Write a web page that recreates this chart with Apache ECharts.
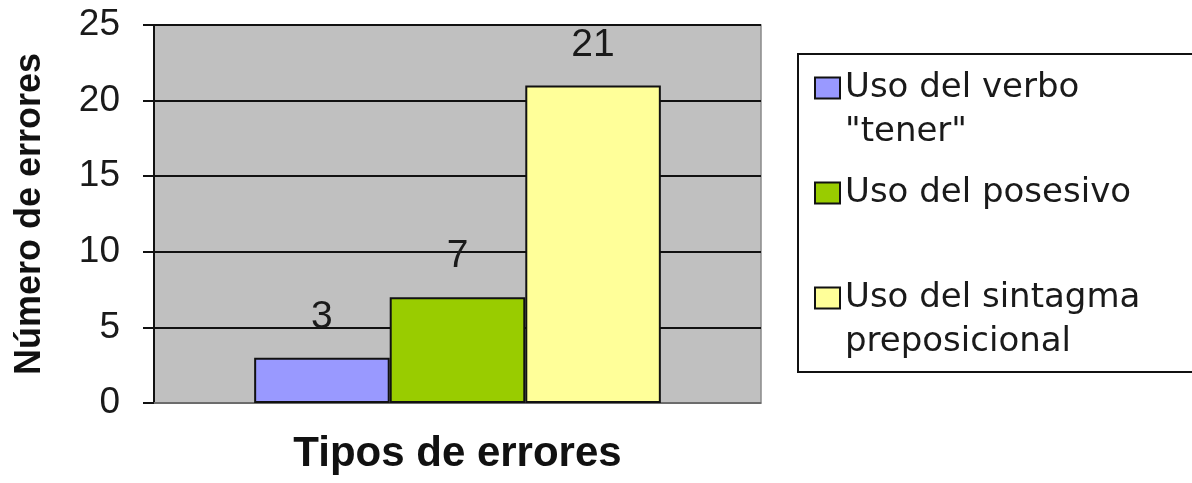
<!DOCTYPE html>
<html>
<head>
<meta charset="utf-8">
<script src="https://cdn.jsdelivr.net/npm/echarts@6/dist/echarts.min.js"></script>
<style>
  html, body { margin: 0; padding: 0; background: #fff; }
  #chart { width: 1192px; height: 483px; }
</style>
</head>
<body>
<div id="chart"></div>
<script>
// datos
var categories = [''];
var seriesNames = ['Uso del verbo "tener"', 'Uso del posesivo', 'Uso del sintagma preposicional'];
var legendLines = [['Uso del verbo', '"tener"'], ['Uso del posesivo'], ['Uso del sintagma', 'preposicional']];
var values = [3, 7, 21];
var colors = ['#9999FF', '#99CC00', '#FFFF99'];
var yTicks = [0, 5, 10, 15, 20, 25];

var chart = echarts.init(document.getElementById('chart'));
var font = '"Liberation Sans", Arial, sans-serif';

var series = seriesNames.map(function (name, i) {
    return {
        name: name,
        type: 'bar',
        data: [values[i]],
        barGap: '0%',
        barCategoryGap: '33%',
        itemStyle: { color: colors[i], borderColor: '#111', borderWidth: 2 },
        label: {
            show: true,
            position: 'top',
            distance: 21,
            color: '#1a1a1a',
            fontFamily: font,
            fontSize: 39
        },
        emphasis: { disabled: true }
    };
});

var option = {
    backgroundColor: '#fff',
    animation: false,
    grid: {
        left: 154, right: 431, top: 25, bottom: 80,
        show: true,
        backgroundColor: '#C0C0C0',
        borderColor: '#8a8a8a',
        borderWidth: 1.5
    },
    legend: {
        orient: 'vertical',
        left: 814,
        top: 22,
        padding: 0,
        itemGap: 17,
        itemWidth: 25,
        itemHeight: 21,
        icon: 'rect',
        selectedMode: false,
        data: seriesNames.map(function (n, i) {
            return { name: n, itemStyle: { color: colors[i], borderColor: '#111', borderWidth: 2 } };
        }),
        formatter: function (name) {
            var lines = legendLines[seriesNames.indexOf(name)];
            // linea vacia arriba para que el cuadro quede junto a la primera linea
            return lines.length > 1 ? '\n' + lines.join('\n') : lines[0];
        },
        textStyle: {
            color: '#1a1a1a',
            fontFamily: '"DejaVu Sans", sans-serif',
            fontSize: 34,
            lineHeight: 44
        }
    },
    graphic: [{
        type: 'rect',
        z: -1,
        shape: { x: 798, y: 54, width: 420, height: 318 },
        style: { fill: '#fff', stroke: '#111', lineWidth: 2 }
    }],
    xAxis: {
        type: 'category',
        data: categories,
        name: 'Tipos de errores',
        nameLocation: 'middle',
        nameGap: 30,
        nameTextStyle: { color: '#111', fontFamily: font, fontSize: 42, fontWeight: 'bold' },
        axisLine: { lineStyle: { color: '#8a8a8a', width: 1.5 } },
        axisTick: { show: false },
        axisLabel: { show: false }
    },
    yAxis: {
        type: 'value',
        min: yTicks[0],
        max: yTicks[yTicks.length - 1],
        interval: 5,
        name: 'Número de errores',
        nameLocation: 'middle',
        nameGap: 106,
        nameTextStyle: { color: '#111', fontFamily: font, fontSize: 36, fontWeight: 'bold' },
        axisLine: { show: true, lineStyle: { color: '#111', width: 2 } },
        axisTick: { show: true, length: 11, lineStyle: { color: '#111', width: 2 } },
        axisLabel: { margin: 34, color: '#1a1a1a', fontFamily: font, fontSize: 37 },
        splitLine: { lineStyle: { color: '#111', width: 2 } }
    },
    series: series
};

chart.setOption(option);
</script>
</body>
</html>
